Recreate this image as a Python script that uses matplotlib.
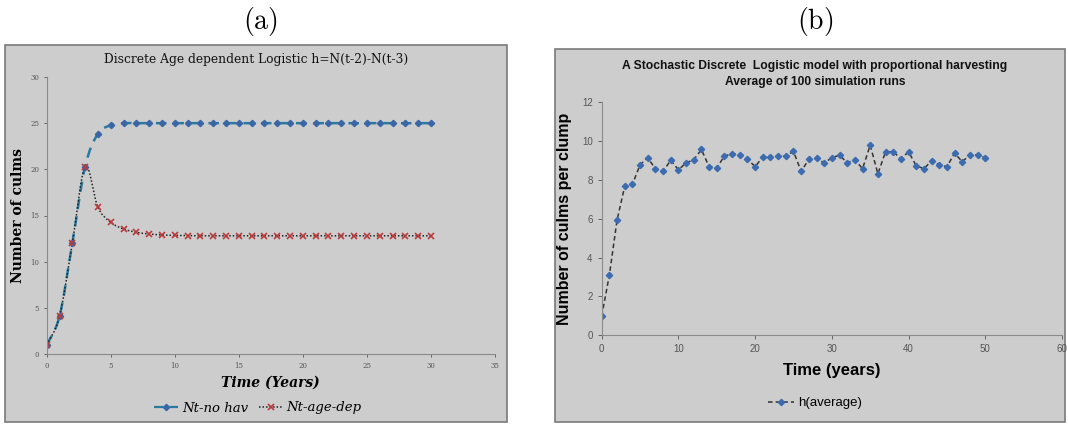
import matplotlib.pyplot as plt
from matplotlib.patches import Rectangle, PathPatch
from matplotlib.path import Path
from matplotlib.lines import Line2D

plt.rcParams['mathtext.fontset'] = 'cm'

# (a) discrete age dependent logistic
years_a = list(range(0, 31))
no_hav = [1, 4.08, 12.0, 20.3, 23.86, 24.77, 25.0] + [25.0] * 24
age_dep = [1, 4.08, 12.0, 20.3, 15.88, 14.26, 13.54, 13.18, 13.0, 12.89, 12.85,
           12.82, 12.8, 12.8, 12.8, 12.8, 12.8, 12.8, 12.8, 12.8, 12.8,
           12.8, 12.8, 12.8, 12.8, 12.8, 12.8, 12.8, 12.8, 12.8, 12.8]

# (b) stochastic model, average of 100 runs
years_b = list(range(0, 51))
h_avg = [1.0, 3.1, 5.93, 7.68, 7.77, 8.78, 9.14, 8.58, 8.44, 9.02, 8.52,
         8.88, 9.04, 9.57, 8.68, 8.63, 9.23, 9.35, 9.30, 9.09, 8.68,
         9.19, 9.18, 9.23, 9.23, 9.47, 8.44, 9.07, 9.13, 8.88, 9.14,
         9.28, 8.88, 9.04, 8.58, 9.79, 8.32, 9.45, 9.45, 9.09, 9.45,
         8.73, 8.58, 8.99, 8.78, 8.68, 9.38, 8.94, 9.30, 9.30, 9.14]


def smooth_path(xs, ys):
    # bezier curve through the points, like a spreadsheet "smoothed line"
    pts = list(zip(xs, ys))
    verts = [pts[0]]
    codes = [Path.MOVETO]
    n = len(pts)
    for i in range(n - 1):
        p0 = pts[max(i - 1, 0)]
        p1 = pts[i]
        p2 = pts[i + 1]
        p3 = pts[min(i + 2, n - 1)]
        c1 = (p1[0] + (p2[0] - p0[0]) / 6, p1[1] + (p2[1] - p0[1]) / 6)
        c2 = (p2[0] - (p3[0] - p1[0]) / 6, p2[1] - (p3[1] - p1[1]) / 6)
        verts += [c1, c2, p2]
        codes += [Path.CURVE4] * 3
    return Path(verts, codes)


W, H = 1068, 424
fig = plt.figure(figsize=(W / 100, H / 100), dpi=100)

bg = '#cdcdcd'
fig.patches.append(Rectangle((5 / W, 1 - 422 / H), 502 / W, 377 / H,
                             transform=fig.transFigure, facecolor=bg,
                             edgecolor='#7a7a7a', lw=1.2, zorder=-5))
fig.patches.append(Rectangle((555 / W, 1 - 422 / H), 510 / W, 373 / H,
                             transform=fig.transFigure, facecolor=bg,
                             edgecolor='#7a7a7a', lw=1.2, zorder=-5))

fig.text(260 / W, 1 - 22 / H, r'$\mathrm{(a)}$', fontsize=20, ha='center', va='center')
fig.text(815 / W, 1 - 22 / H, r'$\mathrm{(b)}$', fontsize=20, ha='center', va='center')

# ---- panel a ----
ax1 = fig.add_axes([46.7 / W, 1 - 354 / H, (495 - 46.7) / W, (354 - 77) / H])
ax1.set_facecolor('none')
blue_line = '#2a7aa0'
blue_mk = '#3a66a6'
red_mk = '#b83a3a'
long_dash = (0, (4.2, 2.8))
ax1.add_patch(PathPatch(smooth_path(years_a, no_hav), fill=False, edgecolor=blue_line,
                        lw=1.8, linestyle=long_dash))
ax1.add_patch(PathPatch(smooth_path(years_a, age_dep), fill=False, edgecolor='#222222',
                        lw=1.1, linestyle=(0, (1, 1.3))))
ax1.plot(years_a, no_hav, linestyle='none', marker='D', ms=3.2, color=blue_mk)
ax1.plot(years_a, age_dep, linestyle='none', marker='x', ms=4, mew=1.2, color=red_mk)
ax1.set_xlim(0, 35)
ax1.set_ylim(0, 30)
ax1.set_xticks(range(0, 36, 5))
ax1.set_yticks(range(0, 31, 5))
for s in ['top', 'right']:
    ax1.spines[s].set_visible(False)
for s in ['left', 'bottom']:
    ax1.spines[s].set_color('#8a8a8a')
    ax1.spines[s].set_linewidth(0.8)
ax1.tick_params(labelsize=5, colors='#555555', length=2, width=0.6)
for lab in ax1.get_xticklabels() + ax1.get_yticklabels():
    lab.set_family('DejaVu Serif')
fig.text(256 / W, 1 - 60 / H, 'Discrete Age dependent Logistic h=N(t-2)-N(t-3)',
         family='DejaVu Serif', fontsize=8.8, ha='center', va='center', color='#111111',
         fontweight='medium')
ax1.set_ylabel('Number of culms', family='DejaVu Serif', fontsize=10, labelpad=4,
               fontweight='bold')
ax1.set_xlabel('Time (Years)', family='DejaVu Serif', fontsize=10, style='italic',
               fontweight='bold', labelpad=4)
h1 = [Line2D([], [], color=blue_line, lw=1.6, linestyle=long_dash, marker='D', ms=3.2,
             mfc=blue_mk, mec=blue_mk),
      Line2D([], [], color='#222222', lw=1.1, linestyle=(0, (1, 1.3)), marker='x', ms=4,
             mew=1.2, mec=red_mk)]
fig.legend(h1, ['Nt-no hav', 'Nt-age-dep'], loc='center', bbox_to_anchor=(258 / W, 1 - 408 / H),
           ncol=2, frameon=False, prop={'family': 'DejaVu Serif', 'style': 'italic', 'size': 9.5},
           handlelength=1.8, columnspacing=0.8, handletextpad=0.3)

# ---- panel b ----
ax2 = fig.add_axes([601.7 / W, 1 - 335.3 / H, (1062 - 601.7) / W, (335.3 - 102.3) / H])
ax2.set_facecolor('none')
ax2.plot(years_b, h_avg, color='#333333', lw=1.1, linestyle=(0, (3, 2)),
         marker='D', ms=3.2, mfc='#3d6bb0', mec='#3d6bb0')
ax2.set_xlim(0, 60)
ax2.set_ylim(0, 12)
ax2.set_xticks(range(0, 61, 10))
ax2.set_yticks(range(0, 13, 2))
for s in ['top', 'right']:
    ax2.spines[s].set_visible(False)
for s in ['left', 'bottom']:
    ax2.spines[s].set_color('#8a8a8a')
    ax2.spines[s].set_linewidth(0.8)
ax2.tick_params(labelsize=7, colors='#555555', length=3, width=0.6)
for lab in ax2.get_xticklabels() + ax2.get_yticklabels():
    lab.set_family('Liberation Sans')
fig.text(815 / W, 1 - 74 / H, 'A Stochastic Discrete  Logistic model with proportional harvesting\n'
         'Average of 100 simulation runs', family='Liberation Sans', fontweight='bold',
         fontsize=8.7, linespacing=1.35, color='#111111', ha='center', va='center')
ax2.set_ylabel('Number of culms per clump', family='Liberation Sans', fontweight='bold',
               fontsize=11.5, labelpad=7)
ax2.set_xlabel('Time (years)', family='Liberation Sans', fontweight='bold', fontsize=12,
               labelpad=6)
h2 = [Line2D([], [], color='#333333', lw=1.1, linestyle=(0, (3, 2)), marker='D', ms=3.2,
             mfc='#3d6bb0', mec='#3d6bb0')]
fig.legend(h2, ['h(average)'], loc='center', bbox_to_anchor=(815 / W, 1 - 403 / H),
           frameon=False, prop={'family': 'Liberation Sans', 'size': 9.5},
           handlelength=2.0, handletextpad=0.3)

fig.savefig('out.png', dpi=100)
